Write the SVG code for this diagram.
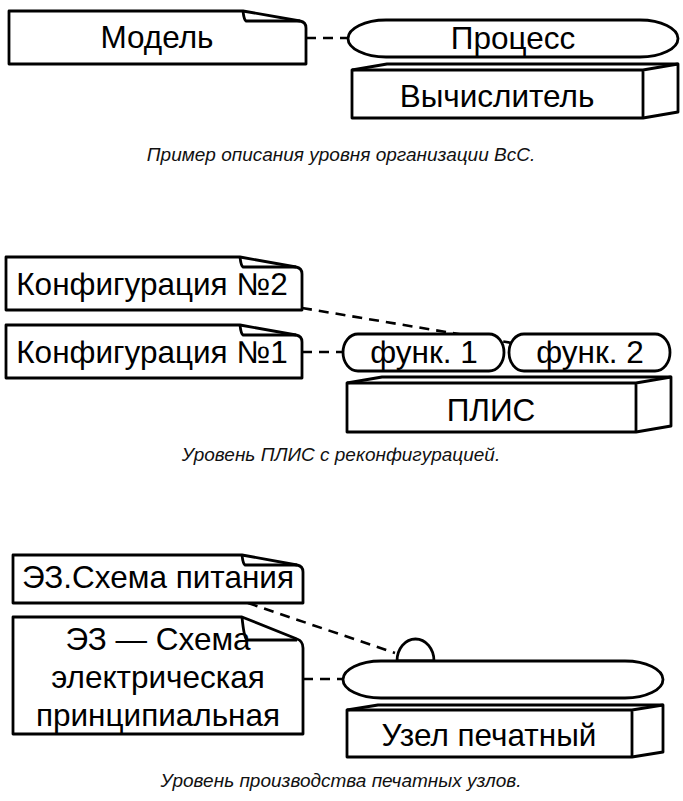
<svg xmlns="http://www.w3.org/2000/svg" width="683" height="801" viewBox="0 0 683 801">
  <style>
    .shape { fill: #fff; stroke: #000; stroke-width: 2.8; stroke-linejoin: round; }
    .edge { fill: none; stroke: #000; stroke-width: 2.8; }
    .link { fill: none; stroke: #000; stroke-width: 2.6; stroke-dasharray: 10 7; }
    .label { font-family: "Liberation Sans", Arial, sans-serif; font-size: 31.5px; fill: #000; text-anchor: middle; }
    .caption { font-family: "Liberation Sans", Arial, sans-serif; font-size: 19px; font-style: italic; fill: #111; text-anchor: middle; }
  </style>
  <rect width="683" height="801" fill="#fff"/>

  <!-- dashed dependency lines -->
  <g id="connectors">
    <path class="link" d="M306,38 H348"/>
    <path class="link" d="M302,308 L512,343"/>
    <path class="link" d="M302,352 H343"/>
    <path class="link" d="M248,603 L395,653"/>
    <path class="link" d="M303,679 H343"/>
  </g>

  <!-- level 1 -->
  <g id="model">
    <path class="shape" d="M9,11 H243 L300,21 Q306,22 306,28 V64 H9 Z"/>
    <path class="edge" d="M243,11 Q244,20 246,21 H300"/>
    <text class="label" x="157" y="48">Модель</text>
  </g>
  <g id="process">
    <path class="shape" d="M386,20 H640 A38,18.5 0 0 1 640,57 H386 A38,18.5 0 0 1 386,20 Z"/>
    <text class="label" x="513" y="49">Процесс</text>
  </g>
  <g id="computer">
    <path class="shape" d="M352,118 V70 L387,64 H678 V112 L643,118 Z"/>
    <path class="edge" d="M352,70 H643 L678,64 M643,70 V118"/>
    <text class="label" x="497" y="107">Вычислитель</text>
  </g>
  <text class="caption" x="341" y="161">Пример описания уровня организации ВсС.</text>

  <!-- level 2 -->
  <g id="config2">
    <path class="shape" d="M6,257 H240 L296,267 Q302,268 302,274 V310 H6 Z"/>
    <path class="edge" d="M240,257 Q241,266 243,267 H296"/>
    <text class="label" x="152" y="295">Конфигурация №2</text>
  </g>
  <g id="config1">
    <path class="shape" d="M6,325 H240 L296,335 Q302,336 302,342 V378 H6 Z"/>
    <path class="edge" d="M240,325 Q241,334 243,335 H296"/>
    <text class="label" x="152" y="363">Конфигурация №1</text>
  </g>
  <g id="func1">
    <path class="shape" d="M358,334 H489 A15,18.5 0 0 1 489,371 H358 A15,18.5 0 0 1 358,334 Z"/>
    <text class="label" x="424" y="363">функ. 1</text>
  </g>
  <g id="func2">
    <path class="shape" d="M524,334 H655 A15,18.5 0 0 1 655,371 H524 A15,18.5 0 0 1 524,334 Z"/>
    <text class="label" x="590" y="363">функ. 2</text>
  </g>
  <g id="fpga">
    <path class="shape" d="M347,432 V383 L382,377 H671 V426 L636,432 Z"/>
    <path class="edge" d="M347,383 H636 L671,377 M636,383 V432"/>
    <text class="label" x="491" y="421">ПЛИС</text>
  </g>
  <text class="caption" x="341" y="461">Уровень ПЛИС с реконфигурацией.</text>

  <!-- level 3 -->
  <g id="power-scheme">
    <path class="shape" d="M13,555 H242 L297,565 Q303,566 303,572 V603 H13 Z"/>
    <path class="edge" d="M242,555 Q243,564 245,565 H297"/>
    <text class="label" x="158" y="588">ЭЗ.Схема питания</text>
  </g>
  <g id="circuit-scheme">
    <path class="shape" d="M13,617 H242 L297,639 Q303,641 303,648 V734 H13 Z"/>
    <path class="edge" d="M242,617 Q244,638 247,640 H297"/>
    <text class="label" x="158" y="650">ЭЗ — Схема</text>
    <text class="label" x="158" y="688">электрическая</text>
    <text class="label" x="158" y="726">принципиальная</text>
  </g>
  <g id="board">
    <path class="shape" d="M397,661 A18.5,22 0 0 1 434,661 Z"/>
    <path class="shape" d="M381,661 H625 A38,18.5 0 0 1 625,698 H381 A38,18.5 0 0 1 381,661 Z"/>
  </g>
  <g id="pcb-unit">
    <path class="shape" d="M347,757 V710 L378,705 H663 V752 L632,757 Z"/>
    <path class="edge" d="M347,710 H632 L663,705 M632,710 V757"/>
    <text class="label" x="489" y="746">Узел печатный</text>
  </g>
  <text class="caption" x="341" y="787">Уровень производства печатных узлов.</text>
</svg>
